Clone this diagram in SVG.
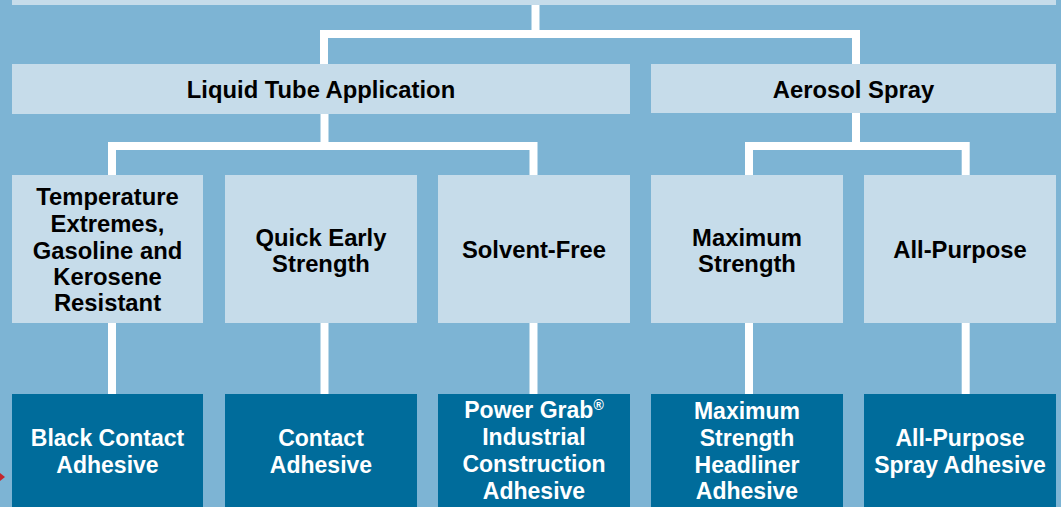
<svg xmlns="http://www.w3.org/2000/svg" width="1061" height="507" viewBox="0 0 1061 507">
<defs>
<style>
.bg{fill:#7db4d4}
.lt{fill:#c6dcea}
.dk{fill:#006c9b}
.t{font-family:"Liberation Sans",Arial,Helvetica,sans-serif;font-weight:bold;font-size:23px;text-anchor:middle}
.tl{fill:#000000;font-size:23.8px}
.tw{fill:#ffffff}
.c{fill:none;stroke:#ffffff;stroke-width:8;stroke-linejoin:miter;stroke-linecap:butt}
</style>
</defs>
<rect class="bg" x="0" y="0" width="1061" height="507"/>
<g id="connectors">
<path class="c" d="M535.5,5 V34"/>
<path class="c" d="M324,64 V34 H856 V64"/>
<path class="c" d="M324.5,114 V146"/>
<path class="c" d="M112,175 V146 H533.5 V175"/>
<path class="c" d="M856,113 V146"/>
<path class="c" d="M749,175 V146 H965.7 V175"/>
<path class="c" d="M112,323 V394"/>
<path class="c" d="M324.5,323 V394"/>
<path class="c" d="M533.5,323 V394"/>
<path class="c" d="M749,323 V394"/>
<path class="c" d="M965.7,323 V394"/>
</g>
<g id="root"><rect class="lt" x="12" y="0" width="1044" height="5"/></g>
<g id="liquid">
<rect class="lt" x="12" y="64" width="618" height="50"/>
<text class="t tl" x="321" y="97.5">Liquid Tube Application</text>
</g>
<g id="aerosol">
<rect class="lt" x="651" y="64" width="405" height="49"/>
<text class="t tl" x="853.5" y="97.5">Aerosol Spray</text>
</g>
<g id="temp">
<rect class="lt" x="12" y="175" width="191" height="148"/>
<text class="t tl" x="107.5" y="204.5">Temperature</text>
<text class="t tl" x="107.5" y="231.5">Extremes,</text>
<text class="t tl" x="107.5" y="258.5">Gasoline and</text>
<text class="t tl" x="107.5" y="284.5">Kerosene</text>
<text class="t tl" x="107.5" y="310.5">Resistant</text>
</g>
<g id="quick">
<rect class="lt" x="225" y="175" width="192" height="148"/>
<text class="t tl" x="321" y="245.5">Quick Early</text>
<text class="t tl" x="321" y="271.5">Strength</text>
</g>
<g id="solvent">
<rect class="lt" x="438" y="175" width="192" height="148"/>
<text class="t tl" x="534" y="257.5">Solvent-Free</text>
</g>
<g id="maxstr">
<rect class="lt" x="651" y="175" width="192" height="148"/>
<text class="t tl" x="747" y="245.5">Maximum</text>
<text class="t tl" x="747" y="271.5">Strength</text>
</g>
<g id="allpurpose">
<rect class="lt" x="864" y="175" width="192" height="148"/>
<text class="t tl" x="960" y="257.5">All-Purpose</text>
</g>
<g id="black">
<rect class="dk" x="12" y="394" width="191" height="113"/>
<text class="t tw" x="107.5" y="446">Black Contact</text>
<text class="t tw" x="107.5" y="473">Adhesive</text>
</g>
<g id="contact">
<rect class="dk" x="225" y="394" width="192" height="113"/>
<text class="t tw" x="321" y="446">Contact</text>
<text class="t tw" x="321" y="473">Adhesive</text>
</g>
<g id="powergrab">
<rect class="dk" x="438" y="394" width="192" height="113"/>
<text class="t tw" x="534" y="418">Power Grab<tspan font-size="14" dy="-8">®</tspan></text>
<text class="t tw" x="534" y="445">Industrial</text>
<text class="t tw" x="534" y="472">Construction</text>
<text class="t tw" x="534" y="499">Adhesive</text>
</g>
<g id="headliner">
<rect class="dk" x="651" y="394" width="192" height="113"/>
<text class="t tw" x="747" y="419">Maximum</text>
<text class="t tw" x="747" y="446">Strength</text>
<text class="t tw" x="747" y="473">Headliner</text>
<text class="t tw" x="747" y="499">Adhesive</text>
</g>
<g id="spray">
<rect class="dk" x="864" y="394" width="192" height="113"/>
<text class="t tw" x="960" y="446">All-Purpose</text>
<text class="t tw" x="960" y="473">Spray Adhesive</text>
</g>
<polygon points="0,473 5,477 0,481" fill="#c4262e"/>
</svg>
